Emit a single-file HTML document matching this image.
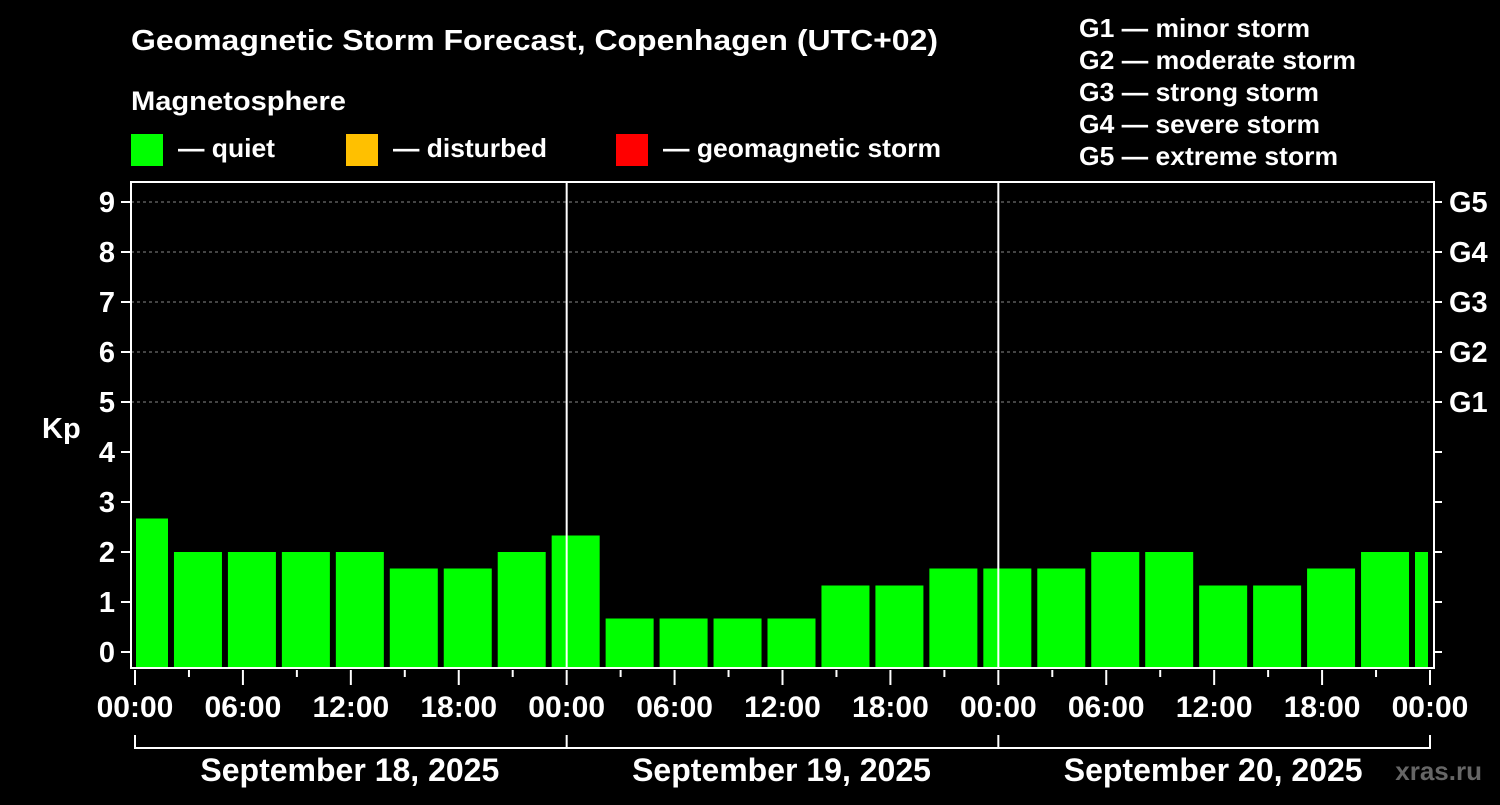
<!DOCTYPE html>
<html><head><meta charset="utf-8"><style>
body{margin:0;background:#000;width:1500px;height:800px;overflow:hidden}
svg text{font-family:"Liberation Sans",Arial,sans-serif;font-weight:bold;fill:#fff}
</style></head><body>
<svg id="c" width="1500" height="800"></svg>
<script>
const kpValues=[2.67,2,2,2,2,1.67,1.67,2, 2.33,0.67,0.67,0.67,0.67,1.33,1.33,1.67, 1.67,1.67,2,2,1.33,1.33,1.67,2, 2];
const yTicks=[0,1,2,3,4,5,6,7,8,9];
const gLabels=["G1","G2","G3","G4","G5"];
const timeLabels=["00:00","06:00","12:00","18:00","00:00","06:00","12:00","18:00","00:00","06:00","12:00","18:00","00:00"];
const dayLabels=["September 18, 2025","September 19, 2025","September 20, 2025"];
const legendG=["G1 — minor storm","G2 — moderate storm","G3 — strong storm","G4 — severe storm","G5 — extreme storm"];
const legendGW=[231,277,240,241,259];

const NS="http://www.w3.org/2000/svg",svg=document.getElementById('c');
const X0=135,X1=1430,LEFT=131,RIGHT=1434,TOP=182,BOT=668;
const hourW=(X1-X0)/72;
const x=h=>X0+h*hourW;
const y=v=>652-v*50;
function el(t,a,txt){const e=document.createElementNS(NS,t);for(const k in a)e.setAttribute(k,a[k]);if(txt!=null)e.textContent=txt;svg.appendChild(e);return e;}
let e;
e=el('text',{x:131,y:50,'font-size':29,textLength:807,lengthAdjust:'spacingAndGlyphs'},'Geomagnetic Storm Forecast, Copenhagen (UTC+02)');

e=el('text',{x:131,y:110,'font-size':27,textLength:215,lengthAdjust:'spacingAndGlyphs'},'Magnetosphere');

const leg=[["#00ff00","— quiet",131,97],["#ffc000","— disturbed",346,154],["#ff0000","— geomagnetic storm",616,278]];
leg.forEach(l=>{
 e=el('rect',{x:l[2],y:134,width:32,height:32,fill:l[0]});
 
 e=el('text',{x:l[2]+47,y:157,'font-size':26,textLength:l[3],lengthAdjust:'spacingAndGlyphs'},l[1]);
 
});
legendG.forEach((t,i)=>{
 e=el('text',{x:1079,y:37+i*32,'font-size':26,textLength:legendGW[i],lengthAdjust:'spacingAndGlyphs'},t);
 
});
[5,6,7,8,9].forEach(v=>{
 e=el('line',{x1:LEFT,x2:RIGHT,y1:y(v),y2:y(v),stroke:'#888','stroke-dasharray':'3,3','stroke-width':1});
 
});
kpValues.forEach((v,i)=>{
 const cx=X0+9+i*3*hourW;
 let l=Math.max(cx-24,136),r=Math.min(cx+24,1428);
 const col=v>=5?'#ff0000':(v>=4?'#ffc000':'#00ff00');
 e=el('rect',{x:l,y:y(v),width:r-l,height:BOT-y(v),fill:col});
 
});
[24,48].forEach(h=>{
 e=el('line',{x1:x(h),x2:x(h),y1:TOP,y2:BOT,stroke:'#fff','stroke-width':2});
 
});
e=el('path',{d:`M${LEFT},${TOP}H${RIGHT}V${BOT}H${LEFT}Z`,fill:'none',stroke:'#fff','stroke-width':2});

yTicks.forEach(v=>{
 e=el('line',{x1:121,x2:LEFT,y1:y(v),y2:y(v),stroke:'#fff','stroke-width':2});
 
 e=el('text',{x:115,y:y(v)+10,'font-size':29,'text-anchor':'end'},String(v));
 
 e=el('line',{x1:RIGHT,x2:1442,y1:y(v),y2:y(v),stroke:'#fff','stroke-width':2});
 
});
gLabels.forEach((g,i)=>{
 e=el('text',{x:1449,y:y(5+i)+10,'font-size':29},g);
 
});
e=el('text',{x:42,y:438,'font-size':29},'Kp');

for(let h=0;h<=72;h+=3){
 const maj=h%6===0;
 e=el('line',{x1:x(h),x2:x(h),y1:BOT+2,y2:maj?685:677,stroke:'#fff','stroke-width':2});
 
}
timeLabels.forEach((t,i)=>{
 e=el('text',{x:x(i*6),y:717,'font-size':30,'text-anchor':'middle'},t);
 
});
e=el('path',{d:`M${x(0)},735V748H${x(72)}V735M${x(24)},735V748M${x(48)},735V748`,fill:'none',stroke:'#fff','stroke-width':2});

dayLabels.forEach((d,i)=>{
 e=el('text',{x:x(i*24+12)-1,y:781,'font-size':32,'text-anchor':'middle'},d);
 
});
e=el('text',{x:1482,y:780,'font-size':26,'text-anchor':'end',style:'fill:#666'},'xras.ru');

</script>
</body></html>
